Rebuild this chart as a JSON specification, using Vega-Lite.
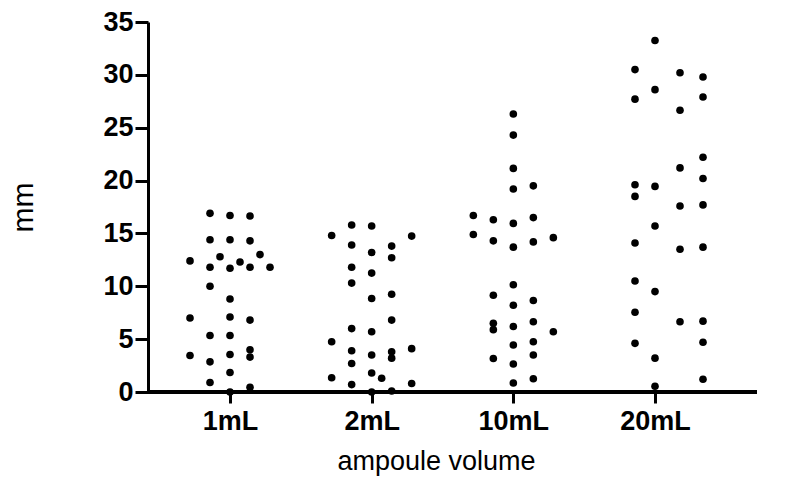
{
  "$schema": "https://vega.github.io/schema/vega-lite/v6.json",
  "autosize": "none",
  "padding": {"left": 148, "top": 22, "right": 32, "bottom": 96},
  "width": 609,
  "height": 370,
  "background": "white",
  "config": {"view": {"stroke": null}, "font": "Liberation Sans"},
  "data": {"values": [
    {"vol": "1mL", "mm": 16.9, "col": -1}, {"vol": "1mL", "mm": 16.7, "col": 0}, {"vol": "1mL", "mm": 16.65, "col": 1},
    {"vol": "1mL", "mm": 14.4, "col": -1}, {"vol": "1mL", "mm": 14.4, "col": 0}, {"vol": "1mL", "mm": 14.3, "col": 1},
    {"vol": "1mL", "mm": 12.8, "col": -0.5}, {"vol": "1mL", "mm": 13.0, "col": 1.5}, {"vol": "1mL", "mm": 12.4, "col": -2},
    {"vol": "1mL", "mm": 11.8, "col": -1}, {"vol": "1mL", "mm": 11.7, "col": 0}, {"vol": "1mL", "mm": 12.3, "col": 0.5},
    {"vol": "1mL", "mm": 11.8, "col": 1}, {"vol": "1mL", "mm": 11.8, "col": 2}, {"vol": "1mL", "mm": 10.0, "col": -1},
    {"vol": "1mL", "mm": 8.8, "col": 0}, {"vol": "1mL", "mm": 7.0, "col": -2}, {"vol": "1mL", "mm": 7.1, "col": 0},
    {"vol": "1mL", "mm": 6.8, "col": 1}, {"vol": "1mL", "mm": 5.35, "col": -1}, {"vol": "1mL", "mm": 5.35, "col": 0},
    {"vol": "1mL", "mm": 3.45, "col": -2}, {"vol": "1mL", "mm": 2.85, "col": -1}, {"vol": "1mL", "mm": 3.55, "col": 0},
    {"vol": "1mL", "mm": 4.0, "col": 1}, {"vol": "1mL", "mm": 3.3, "col": 1}, {"vol": "1mL", "mm": 1.85, "col": 0},
    {"vol": "1mL", "mm": 0.9, "col": -1}, {"vol": "1mL", "mm": 0.45, "col": 1}, {"vol": "1mL", "mm": 0.0, "col": 0},

    {"vol": "2mL", "mm": 15.8, "col": -1}, {"vol": "2mL", "mm": 15.7, "col": 0}, {"vol": "2mL", "mm": 14.8, "col": -2},
    {"vol": "2mL", "mm": 14.75, "col": 2}, {"vol": "2mL", "mm": 13.9, "col": -1}, {"vol": "2mL", "mm": 13.8, "col": 1},
    {"vol": "2mL", "mm": 13.2, "col": 0}, {"vol": "2mL", "mm": 12.7, "col": 1}, {"vol": "2mL", "mm": 11.8, "col": -1},
    {"vol": "2mL", "mm": 11.25, "col": 0}, {"vol": "2mL", "mm": 10.3, "col": -1}, {"vol": "2mL", "mm": 8.85, "col": 0},
    {"vol": "2mL", "mm": 9.25, "col": 1}, {"vol": "2mL", "mm": 6.8, "col": 1}, {"vol": "2mL", "mm": 6.0, "col": -1},
    {"vol": "2mL", "mm": 5.7, "col": 0}, {"vol": "2mL", "mm": 4.75, "col": -2}, {"vol": "2mL", "mm": 3.9, "col": -1},
    {"vol": "2mL", "mm": 3.8, "col": 1}, {"vol": "2mL", "mm": 3.2, "col": 1}, {"vol": "2mL", "mm": 3.5, "col": 0},
    {"vol": "2mL", "mm": 4.1, "col": 2}, {"vol": "2mL", "mm": 2.7, "col": -1}, {"vol": "2mL", "mm": 1.8, "col": 0},
    {"vol": "2mL", "mm": 1.3, "col": 0.5}, {"vol": "2mL", "mm": 1.35, "col": -2}, {"vol": "2mL", "mm": 0.7, "col": -1},
    {"vol": "2mL", "mm": 0.8, "col": 2}, {"vol": "2mL", "mm": 0.0, "col": 0}, {"vol": "2mL", "mm": 0.1, "col": 1},

    {"vol": "10mL", "mm": 26.3, "col": 0}, {"vol": "10mL", "mm": 24.3, "col": 0}, {"vol": "10mL", "mm": 21.15, "col": 0},
    {"vol": "10mL", "mm": 19.2, "col": 0}, {"vol": "10mL", "mm": 19.5, "col": 1}, {"vol": "10mL", "mm": 16.7, "col": -2},
    {"vol": "10mL", "mm": 16.3, "col": -1}, {"vol": "10mL", "mm": 15.95, "col": 0}, {"vol": "10mL", "mm": 16.5, "col": 1},
    {"vol": "10mL", "mm": 14.9, "col": -2}, {"vol": "10mL", "mm": 14.3, "col": -1}, {"vol": "10mL", "mm": 13.7, "col": 0},
    {"vol": "10mL", "mm": 14.2, "col": 1}, {"vol": "10mL", "mm": 14.6, "col": 2}, {"vol": "10mL", "mm": 10.15, "col": 0},
    {"vol": "10mL", "mm": 9.15, "col": -1}, {"vol": "10mL", "mm": 8.2, "col": 0}, {"vol": "10mL", "mm": 8.65, "col": 1},
    {"vol": "10mL", "mm": 6.5, "col": -1}, {"vol": "10mL", "mm": 5.9, "col": -1}, {"vol": "10mL", "mm": 6.2, "col": 0},
    {"vol": "10mL", "mm": 6.65, "col": 1}, {"vol": "10mL", "mm": 5.7, "col": 2}, {"vol": "10mL", "mm": 4.45, "col": 0},
    {"vol": "10mL", "mm": 4.75, "col": 1}, {"vol": "10mL", "mm": 3.17, "col": -1}, {"vol": "10mL", "mm": 2.65, "col": 0},
    {"vol": "10mL", "mm": 3.5, "col": 1}, {"vol": "10mL", "mm": 0.85, "col": 0}, {"vol": "10mL", "mm": 1.25, "col": 1},

    {"vol": "20mL", "mm": 30.5, "col": -1}, {"vol": "20mL", "mm": 27.7, "col": -1}, {"vol": "20mL", "mm": 19.6, "col": -1},
    {"vol": "20mL", "mm": 18.5, "col": -1}, {"vol": "20mL", "mm": 14.1, "col": -1}, {"vol": "20mL", "mm": 10.5, "col": -1},
    {"vol": "20mL", "mm": 7.55, "col": -1}, {"vol": "20mL", "mm": 4.6, "col": -1},
    {"vol": "20mL", "mm": 33.25, "col": 0}, {"vol": "20mL", "mm": 28.6, "col": 0}, {"vol": "20mL", "mm": 19.45, "col": 0},
    {"vol": "20mL", "mm": 15.7, "col": 0}, {"vol": "20mL", "mm": 9.5, "col": 0}, {"vol": "20mL", "mm": 3.2, "col": 0},
    {"vol": "20mL", "mm": 0.55, "col": 0},
    {"vol": "20mL", "mm": 30.2, "col": 1.25}, {"vol": "20mL", "mm": 26.65, "col": 1.25}, {"vol": "20mL", "mm": 21.2, "col": 1.25},
    {"vol": "20mL", "mm": 17.6, "col": 1.25}, {"vol": "20mL", "mm": 13.5, "col": 1.25}, {"vol": "20mL", "mm": 6.65, "col": 1.25},
    {"vol": "20mL", "mm": 29.8, "col": 2.4}, {"vol": "20mL", "mm": 27.9, "col": 2.4}, {"vol": "20mL", "mm": 22.2, "col": 2.4},
    {"vol": "20mL", "mm": 20.2, "col": 2.4}, {"vol": "20mL", "mm": 17.7, "col": 2.4}, {"vol": "20mL", "mm": 13.7, "col": 2.4},
    {"vol": "20mL", "mm": 6.7, "col": 2.4}, {"vol": "20mL", "mm": 4.7, "col": 2.4}, {"vol": "20mL", "mm": 1.2, "col": 2.4}
  ]},
  "layer": [
    {
      "mark": {"type": "rule", "color": "black", "strokeWidth": 3},
      "encoding": {"y": {"datum": 0, "type": "quantitative"}}
    },
    {
      "mark": {"type": "point", "filled": true, "color": "black", "opacity": 1, "size": 58, "shape": "circle"},
      "encoding": {
        "x": {
          "field": "vol", "type": "nominal", "sort": ["1mL", "2mL", "10mL", "20mL"],
          "scale": {"type": "point", "range": [82, 507], "padding": 0},
          "axis": {
            "title": "ampoule volume", "titleFontSize": 27, "titleFontWeight": "normal", "titleColor": "black", "titlePadding": 14, "titleX": 288,
            "labelFontSize": 27, "labelFontWeight": "bold", "labelColor": "black", "labelPadding": 5, "labelAngle": 0,
            "domain": false, "tickColor": "black", "tickWidth": 3, "tickSize": 11
          }
        },
        "xOffset": {"field": "col", "type": "quantitative", "scale": {"domain": [-2, 2], "range": [-40, 40]}},
        "y": {
          "field": "mm", "type": "quantitative",
          "scale": {"domain": [0, 35], "nice": false, "zero": true},
          "axis": {
            "title": "mm", "titleFontSize": 30, "titleFontWeight": "normal", "titleColor": "black", "titlePadding": 64,
            "values": [0, 5, 10, 15, 20, 25, 30, 35], "grid": false,
            "labelFontSize": 27, "labelFontWeight": "bold", "labelColor": "black", "labelPadding": 2,
            "domainColor": "black", "domainWidth": 3, "tickColor": "black", "tickWidth": 3, "tickSize": 13
          }
        }
      }
    }
  ]
}
